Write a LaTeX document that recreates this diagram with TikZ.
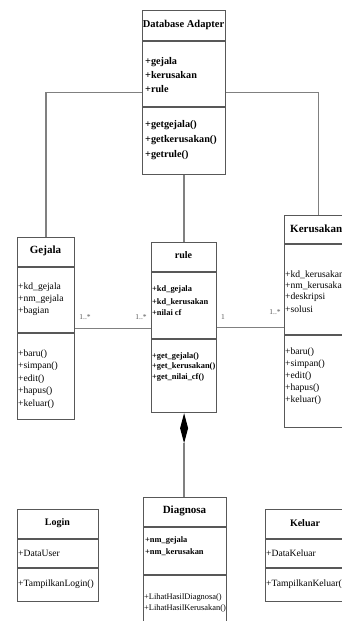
\documentclass[tikz,border=0pt]{standalone}
\usepackage{fontspec}
\setmainfont{Liberation Serif}
\usetikzlibrary{calc}
\definecolor{boxc}{HTML}{585858}
\definecolor{linec}{HTML}{808080}
\begin{document}
\begin{tikzpicture}[x=1pt,y=-1pt,
  cls/.style={draw=boxc, line width=1.2pt, fill=white, inner sep=0pt, anchor=north west},
  div/.style={draw=boxc, line width=1.2pt},
  conn/.style={draw=linec, line width=1.6pt},
  title/.style={inner sep=0pt, font=\bfseries\fontsize{10}{12}\selectfont},
  item/.style={anchor=west, inner sep=0pt, font=\fontsize{9.6}{11}\selectfont},
  bitem/.style={anchor=west, inner sep=0pt, font=\bfseries\fontsize{10.2}{12}\selectfont},
  sitem/.style={anchor=west, inner sep=0pt, font=\bfseries\fontsize{8.4}{10}\selectfont},
  mult/.style={inner sep=0pt, font=\fontsize{7.5}{8}\selectfont, text=black!65}]
\useasboundingbox[fill=white] (0,0) rectangle (341,621);

% class boxes
\node[cls, minimum width=83pt, minimum height=164pt] (da) at (142,10) {};
\node[cls, minimum width=57pt, minimum height=182pt] (gejala) at (17,237) {};
\node[cls, minimum width=65pt, minimum height=170pt] (rule) at (151,242) {};
\node[cls, minimum width=68pt, minimum height=212pt] (kerusakan) at (284,215) {};
\node[cls, minimum width=81pt, minimum height=92pt] (login) at (17,509) {};
\node[cls, minimum width=83pt, minimum height=135pt] (diagnosa) at (143,497) {};
\node[cls, minimum width=82pt, minimum height=92pt] (keluar) at (265,509) {};

% associations
\draw[conn] (da.west) -| (gejala.north);
\draw[conn] (da.east) -| (kerusakan.north);
\draw[conn] (da.south) -- (rule.north);
\draw[conn] (gejala.east) -- (gejala.east -| rule.west);
\draw[conn] (rule.east) -- (rule.east -| kerusakan.west);

% composition Diagnosa -> rule
\coordinate (dtop) at (rule.south);
\coordinate (dbot) at ($(rule.south)+(0,30)$);
\fill[black] (dtop) -- ++(4,15) -- (dbot) -- ++(-4,-15) -- cycle;
\draw[conn] (dbot) -- (dbot |- diagnosa.north);

% multiplicities
\node[mult] (m1) at (85,317) {1..*};
\node[mult] (m2) at (141,317) {1..*};
\node[mult] (m3) at (223,317) {1};
\node[mult] (m4) at (275,312) {1..*};

% Database Adapter
\draw[div] (142,41) -- (225,41);
\draw[div] (142,107) -- (225,107);
\node[title, font=\bfseries\fontsize{10.5}{12}\selectfont] (da-t) at (183.5,25) {Database Adapter};
\node[bitem] (da-a1) at (145,62) {+gejala};
\node[bitem] (da-a2) at (145,75) {+kerusakan};
\node[bitem] (da-a3) at (145,89) {+rule};
\node[bitem] (da-m1) at (145,125) {+getgejala()};
\node[bitem] (da-m2) at (145,140) {+getkerusakan()};
\node[bitem] (da-m3) at (145,155) {+getrule()};

% Gejala
\draw[div] (17,267) -- (74,267);
\draw[div] (17,333) -- (74,333);
\node[title, font=\bfseries\fontsize{11}{13}\selectfont] (g-t) at (45.5,251) {Gejala};
\node[item] (g-a1) at (18,287) {+kd\_gejala};
\node[item] (g-a2) at (18,299) {+nm\_gejala};
\node[item] (g-a3) at (18,311) {+bagian};
\node[item] (g-m1) at (18,354) {+baru()};
\node[item] (g-m2) at (18,366.5) {+simpan()};
\node[item] (g-m3) at (18,379) {+edit()};
\node[item] (g-m4) at (18,391.5) {+hapus()};
\node[item] (g-m5) at (18,404) {+keluar()};

% rule
\draw[div] (151,272) -- (216,272);
\draw[div] (151,339) -- (216,339);
\node[title] (r-t) at (183.5,255) {rule};
\node[sitem] (r-a1) at (152,290) {+kd\_gejala};
\node[sitem] (r-a2) at (152,302) {+kd\_kerusakan};
\node[sitem] (r-a3) at (152,313) {+nilai cf};
\node[sitem] (r-m1) at (152,357) {+get\_gejala()};
\node[sitem] (r-m2) at (152,367) {+get\_kerusakan()};
\node[sitem] (r-m3) at (152,377) {+get\_nilai\_cf()};

% Kerusakan
\draw[div] (284,244) -- (352,244);
\draw[div] (284,335) -- (352,335);
\node[title, anchor=west, font=\bfseries\fontsize{11}{13}\selectfont] (k-t) at (290,229) {Kerusakan};
\node[item] (k-a1) at (285,275) {+kd\_kerusakan};
\node[item] (k-a2) at (285,286) {+nm\_kerusakan};
\node[item] (k-a3) at (285,297.5) {+deskripsi};
\node[item] (k-a4) at (285,309) {+solusi};
\node[item] (k-m1) at (285,352) {+baru()};
\node[item] (k-m2) at (285,364) {+simpan()};
\node[item] (k-m3) at (285,376) {+edit()};
\node[item] (k-m4) at (285,388) {+hapus()};
\node[item] (k-m5) at (285,400) {+keluar()};

% Login
\draw[div] (17,539) -- (98,539);
\draw[div] (17,568) -- (98,568);
\node[title] (l-t) at (57.5,523) {Login};
\node[item] (l-a1) at (18,553) {+DataUser};
\node[item] (l-m1) at (18,584) {+TampilkanLogin()};

% Diagnosa
\draw[div] (143,527) -- (226,527);
\draw[div] (143,575) -- (226,575);
\node[title, font=\bfseries\fontsize{11}{13}\selectfont] (dg-t) at (184.5,511) {Diagnosa};
\node[sitem] (dg-a1) at (145,541) {+nm\_gejala};
\node[sitem] (dg-a2) at (145,552) {+nm\_kerusakan};
\node[item, font=\fontsize{8.4}{10}\selectfont] (dg-m1) at (144,597) {+LihatHasilDiagnosa()};
\node[item, font=\fontsize{8.4}{10}\selectfont] (dg-m2) at (144,608) {+LihatHasilKerusakan()};

% Keluar
\draw[div] (265,539) -- (347,539);
\draw[div] (265,568) -- (347,568);
\node[title] (kl-t) at (305,523) {Keluar};
\node[item] (kl-a1) at (266,553) {+DataKeluar};
\node[item] (kl-m1) at (266,584) {+TampilkanKeluar()};
\end{tikzpicture}
\end{document}
